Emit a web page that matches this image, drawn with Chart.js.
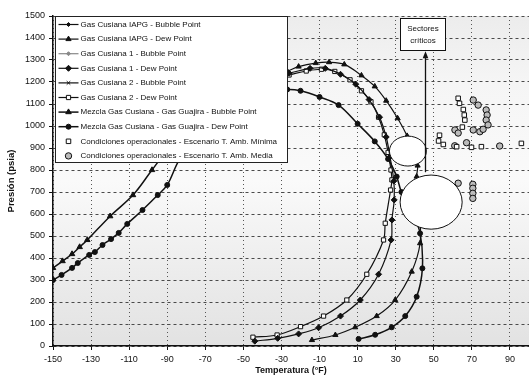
<!DOCTYPE html>
<html>
<head>
<meta charset="utf-8">
<title>Envolventes de fase - Gas Cusiana</title>
<script src="https://cdn.jsdelivr.net/npm/chart.js@4.4.1/dist/chart.umd.min.js"></script>
<style>
html, body { margin: 0; padding: 0; background: #fff; }
#wrap { width: 529px; height: 379px; }
</style>
</head>
<body>
<div id="wrap"><canvas id="myChart" width="529" height="379"></canvas></div>
<script>
// temperatura (°F) / presión (psia) de cada envolvente
const xTicks = [-150, -130, -110, -90, -70, -50, -30, -10, 10, 30, 50, 70, 90];

const iapgBubbleT = [-120, -100, -80, -60, -40];
const iapgBubbleP = [870, 960, 1050, 1140, 1228];
const iapgDewT = [-40, -27, -21, -12, -5, 3, 12, 19, 25, 31, 36, 39, 41.5, 41, 42.5, 42.8, 38.4, 29.7, 20, 8.7, -1.7, -14];
const iapgDewP = [1228, 1250, 1270, 1286, 1290, 1280, 1230, 1180, 1115, 1035, 955, 890, 820, 770, 600, 467, 338, 209, 136, 85, 50, 27];

const cus1BubbleT = [-118, -98, -78, -58, -40];
const cus1BubbleP = [872, 965, 1060, 1150, 1220];
const cus1DewT = [-40, -26, -15, -7, 1, 9, 16, 21.5, 25, 27, 29, 29.2, 28, 27.6, 21, 11.4, 1, -10.5, -21, -32, -44];
const cus1DewP = [1220, 1240, 1262, 1262, 1235, 1190, 1120, 1040, 950, 860, 750, 664, 573, 482, 326, 209, 136, 83, 55, 35, 22];

const cus2BubbleT = [-115, -95, -75, -55, -40];
const cus2BubbleP = [875, 970, 1065, 1150, 1205];
const cus2DewT = [-40, -26, -17, -9, -2, 6, 12, 17, 21, 24, 26, 27.5, 28, 27.3, 24.5, 23.6, 14.8, 4.3, -7.9, -20, -32.3, -45];
const cus2DewP = [1205, 1232, 1250, 1258, 1248, 1210, 1160, 1110, 1040, 960, 880, 800, 755, 709, 558, 482, 326, 209, 136, 88, 50, 40];

const mezBubbleT = [-150, -145, -140, -136, -132, -120, -108, -98, -85, -72, -55];
const mezBubbleP = [355, 386, 418, 450, 482, 590, 686, 800, 945, 1040, 1090];
const mezDewT = [-150, -145.5, -140, -137, -131, -128, -124, -119.5, -115.5, -111, -103, -95, -90, -83, -70, -55, -40, -27, -20, -10, 0, 10, 19, 26, 30.5, 33, 38, 42.8, 44, 41, 35, 27.9, 19.2, 10.5];
const mezDewP = [300, 323, 355, 377, 414, 427, 459, 486, 514, 555, 618, 686, 732, 855, 975, 1090, 1150, 1166, 1160, 1132, 1095, 1010, 930, 850, 770, 700, 620, 512, 353, 224, 136, 85, 51, 32];

// condiciones de operación
const minimaT = [53, 52.5, 55, 62.8, 63.5, 65.5, 66, 66.3, 65, 62, 69.8, 75, 96];
const minimaP = [958, 932, 916, 1126, 1103, 1075, 1050, 1027, 995, 906, 903, 906, 921];
const mediaT = [70.7, 73.3, 77.5, 78, 77.5, 78.5, 61.1, 62.8, 70.7, 74.2, 75.9, 61, 67.2, 84.6, 62.8, 70.5, 70.5, 70.5, 70.5];
const mediaP = [1118, 1095, 1073, 1050, 1027, 1005, 982, 968, 982, 974, 985, 910, 924, 909, 740, 735, 717, 694, 671];

// zonas criticas (centro y semiejes en °F / psia)
const zonas = [
  { t: 36.4, p: 886, dt: 9.7, dp: 68 },
  { t: 48.6, p: 654, dt: 16.3, dp: 123 }
];
const flecha = { t: 45.5, p0: 790, p1: 1340 };
const cuadro = { t0: 32.5, t1: 56, p0: 1345, p1: 1490, lineas: ['Sectores', 'críticos'] };

const FONT = "'Liberation Sans', Arial, sans-serif";
Chart.defaults.font.family = FONT;
Chart.defaults.color = '#111';

function pts(T, P) {
  return T.map(function (t, i) { return { x: t, y: P[i] }; });
}

function curve(label, T, P, style) {
  return Object.assign({
    label: label,
    data: pts(T, P),
    showLine: true,
    borderColor: '#111',
    borderWidth: 1.2,
    tension: 0.35,
    pointBorderColor: '#111',
    pointBorderWidth: 1,
    pointRadius: 2.5,
    pointBackgroundColor: '#111'
  }, style);
}

function marks(label, T, P, style) {
  return Object.assign({
    label: label,
    data: pts(T, P),
    showLine: false,
    pointBorderColor: '#111',
    pointBorderWidth: 1,
    pointRadius: 3.2
  }, style);
}

// fondo, zonas criticas, flecha, cuadro de texto y leyenda
const overlay = {
  id: 'overlay',
  beforeDraw(chart) {
    const ctx = chart.ctx, a = chart.chartArea;
    ctx.save();
    ctx.fillStyle = '#fff';
    ctx.fillRect(0, 0, chart.width, chart.height);
    const g = ctx.createLinearGradient(0, a.top, 0, a.bottom);
    g.addColorStop(0, '#ececec');
    g.addColorStop(0.2, '#f5f5f5');
    g.addColorStop(0.5, '#fafafa');
    g.addColorStop(0.78, '#ececec');
    g.addColorStop(1, '#e2e2e2');
    ctx.fillStyle = g;
    ctx.fillRect(a.left, a.top, a.right - a.left, a.bottom - a.top);
    ctx.restore();
  },
  afterDatasetsDraw(chart) {
    const ctx = chart.ctx, a = chart.chartArea;
    const x = chart.scales.x, y = chart.scales.y;
    ctx.save();

    zonas.forEach(function (z) {
      const cx = x.getPixelForValue(z.t), cy = y.getPixelForValue(z.p);
      const rx = Math.abs(x.getPixelForValue(z.t + z.dt) - cx);
      const ry = Math.abs(y.getPixelForValue(z.p + z.dp) - cy);
      ctx.beginPath();
      ctx.ellipse(cx, cy, rx, ry, 0, 0, Math.PI * 2);
      ctx.fillStyle = '#fff';
      ctx.fill();
      ctx.lineWidth = 1;
      ctx.strokeStyle = '#111';
      ctx.stroke();
    });

    // flecha hacia el cuadro
    const fx = Math.round(x.getPixelForValue(flecha.t)) + 0.5;
    const fy0 = y.getPixelForValue(flecha.p0), fy1 = y.getPixelForValue(flecha.p1);
    ctx.strokeStyle = '#111';
    ctx.lineWidth = 1.3;
    ctx.beginPath();
    ctx.moveTo(fx, fy0);
    ctx.lineTo(fx, fy1 + 5);
    ctx.stroke();
    ctx.beginPath();
    ctx.moveTo(fx, fy1);
    ctx.lineTo(fx - 2.8, fy1 + 7);
    ctx.lineTo(fx + 2.8, fy1 + 7);
    ctx.closePath();
    ctx.fillStyle = '#111';
    ctx.fill();

    // cuadro "Sectores críticos"
    const bx0 = Math.round(x.getPixelForValue(cuadro.t0)) + 0.5, bx1 = Math.round(x.getPixelForValue(cuadro.t1)) + 0.5;
    const by0 = Math.round(y.getPixelForValue(cuadro.p1)) + 0.5, by1 = Math.round(y.getPixelForValue(cuadro.p0)) + 0.5;
    ctx.fillStyle = '#fff';
    ctx.fillRect(bx0, by0, bx1 - bx0, by1 - by0);
    ctx.lineWidth = 1;
    ctx.strokeRect(bx0, by0, bx1 - bx0, by1 - by0);
    ctx.fillStyle = '#111';
    ctx.font = '8px ' + FONT;
    ctx.textAlign = 'center';
    ctx.textBaseline = 'middle';
    const bh = by1 - by0;
    cuadro.lineas.forEach(function (t, i) {
      ctx.fillText(t, (bx0 + bx1) / 2, by0 + bh * (0.33 + i * 0.36));
    });

    // leyenda dentro del area del grafico
    const lx = a.left + 2.5, ly = a.top + 0.5, lw = 232, lh = 146;
    ctx.fillStyle = '#fff';
    ctx.fillRect(lx, ly, lw, lh);
    ctx.strokeStyle = '#222';
    ctx.lineWidth = 1;
    ctx.strokeRect(lx, ly, lw, lh);
    ctx.font = '8px ' + FONT;
    ctx.textAlign = 'left';
    ctx.textBaseline = 'middle';
    chart.data.datasets.forEach(function (ds, i) {
      const ry = ly + 8 + i * 14.6;
      const mx = lx + 13;
      if (ds.showLine) {
        ctx.save();
        ctx.strokeStyle = ds.borderColor;
        ctx.lineWidth = ds.borderWidth;
        ctx.setLineDash(ds.borderDash || []);
        ctx.beginPath();
        ctx.moveTo(lx + 3, ry);
        ctx.lineTo(lx + 23, ry);
        ctx.stroke();
        ctx.restore();
      }
      ctx.save();
      ctx.fillStyle = ds.pointBackgroundColor;
      ctx.strokeStyle = ds.pointBorderColor;
      ctx.lineWidth = ds.pointBorderWidth;
      Chart.helpers.drawPoint(ctx, {
        pointStyle: ds.pointStyle, rotation: 0,
        radius: ds.pointRadius, borderWidth: ds.pointBorderWidth
      }, mx, ry);
      ctx.restore();
      ctx.fillStyle = '#111';
      ctx.fillText(ds.label, lx + 25, ry);
    });
    ctx.restore();
  }
};

const ctx = document.getElementById('myChart').getContext('2d');

const myChart = new Chart(ctx, {
  type: 'scatter',
  data: {
    datasets: [
      curve('Gas Cusiana IAPG - Bubble Point', iapgBubbleT, iapgBubbleP, { pointStyle: 'rectRot', pointRadius: 2 }),
      curve('Gas Cusiana IAPG - Dew Point', iapgDewT, iapgDewP, { pointStyle: 'triangle', pointRadius: 3 }),
      curve('Gas Cusiana 1 - Bubble Point', cus1BubbleT, cus1BubbleP, { borderColor: '#888', pointBorderColor: '#888', pointBackgroundColor: '#888', pointStyle: 'rectRot', pointRadius: 2 }),
      curve('Gas Cusiana 1 - Dew Point', cus1DewT, cus1DewP, { pointStyle: 'rectRot', pointRadius: 3 }),
      curve('Gas Cusiana 2 - Bubble Point', cus2BubbleT, cus2BubbleP, { pointStyle: 'crossRot', pointRadius: 2.5 }),
      curve('Gas Cusiana 2 - Dew Point', cus2DewT, cus2DewP, { pointStyle: 'rect', pointRadius: 3, pointBackgroundColor: '#fff' }),
      curve('Mezcla Gas Cusiana - Gas Guajira - Bubble Point', mezBubbleT, mezBubbleP, { borderWidth: 1.5, pointStyle: 'triangle', pointRadius: 3.2 }),
      curve('Mezcla Gas Cusiana - Gas Guajira - Dew Point', mezDewT, mezDewP, { borderWidth: 1.5, pointStyle: 'circle', pointRadius: 2.5 }),
      marks('Condiciones operacionales - Escenario T. Amb. Mínima', minimaT, minimaP, { pointStyle: 'rect', pointBackgroundColor: '#fff' }),
      marks('Condiciones operacionales - Escenario T. Amb. Media', mediaT, mediaP, { pointStyle: 'circle', pointBackgroundColor: '#bbb' })
    ]
  },
  options: {
    responsive: false,
    animation: false,
    devicePixelRatio: 1,
    layout: { autoPadding: false, padding: { top: 16, right: 0, bottom: 0, left: 0 } },
    plugins: {
      legend: { display: false },
      tooltip: { enabled: false }
    },
    scales: {
      x: {
        type: 'linear',
        min: -150,
        max: 100,
        afterBuildTicks: function (s) { s.ticks = xTicks.map(function (v) { return { value: v }; }); },
        afterFit: function (s) { s.height = 33; },
        grid: { color: '#555', lineWidth: 1, tickLength: 4, tickColor: '#111' },
        border: { display: true, color: '#111', width: 1.5, dash: [1, 3] },
        ticks: { font: { size: 9 }, color: '#111', padding: 4, maxRotation: 0 },
        title: { display: true, text: 'Temperatura (°F)', font: { size: 9, weight: 'bold' }, padding: { top: 0, bottom: 3 } }
      },
      y: {
        min: 0,
        max: 1500,
        afterFit: function (s) { s.width = 53; },
        grid: { color: '#4a4a4a', lineWidth: 1, tickLength: 4, tickColor: '#111' },
        border: { display: true, color: '#111', width: 1.5, dash: [3, 3] },
        ticks: {
          stepSize: 100, font: { size: 9 }, color: '#111', padding: 4,
          callback: function (v) { return String(v); }
        },
        title: { display: true, text: 'Presión (psia)', font: { size: 9.5, weight: 'bold' }, padding: { top: 6, bottom: 0 } }
      }
    }
  },
  plugins: [overlay]
});
</script>
</body>
</html>
